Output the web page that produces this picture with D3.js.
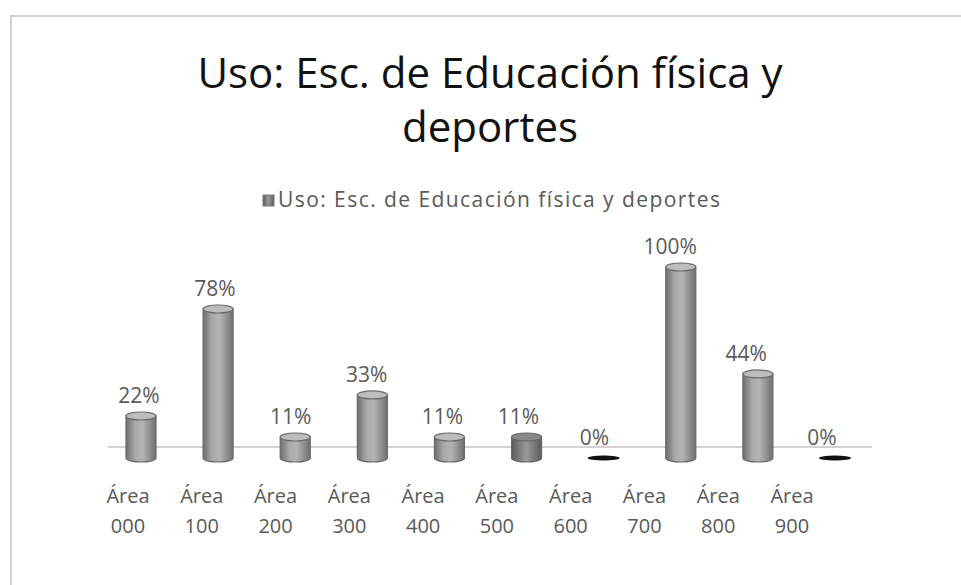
<!DOCTYPE html>
<html lang="es">
<head>
<meta charset="utf-8">
<title>Uso: Esc. de Educación física y deportes</title>
<script src="https://cdn.jsdelivr.net/npm/d3@7"></script>
<style>
  body { margin: 0; background: #ffffff; }
  svg { display: block; font-family: "Open Sans", "Noto Sans", sans-serif; }
</style>
</head>
<body>
<script>
// data
var categories = ["Área 000", "Área 100", "Área 200", "Área 300", "Área 400",
                  "Área 500", "Área 600", "Área 700", "Área 800", "Área 900"];
var values = [0.22, 0.78, 0.11, 0.33, 0.11, 0.11, 0.00, 1.00, 0.44, 0.00];
var titleLines = ["Uso: Esc. de Educación física y", "deportes"];
var seriesName = "Uso: Esc. de Educación física y deportes";

var w = 961, h = 585;

var svg = d3.select("body").append("svg")
  .attr("width", w)
  .attr("height", h);

var defs = svg.append("defs");

// cylinder body gradient
var g1 = defs.append("linearGradient").attr("id", "cyl")
  .attr("x1", "0%").attr("x2", "100%").attr("y1", "0%").attr("y2", "0%");
g1.append("stop").attr("offset", "0%").attr("stop-color", "#6e6e6e");
g1.append("stop").attr("offset", "30%").attr("stop-color", "#a8a8a8");
g1.append("stop").attr("offset", "55%").attr("stop-color", "#b4b4b4");
g1.append("stop").attr("offset", "100%").attr("stop-color", "#707070");

var g2 = defs.append("linearGradient").attr("id", "cyl2")
  .attr("x1", "0%").attr("x2", "100%").attr("y1", "0%").attr("y2", "0%");
g2.append("stop").attr("offset", "0%").attr("stop-color", "#5a5a5a");
g2.append("stop").attr("offset", "50%").attr("stop-color", "#9a9a9a");
g2.append("stop").attr("offset", "100%").attr("stop-color", "#5a5a5a");

// frame (only top and left edges are visible)
svg.append("rect")
  .attr("x", 11).attr("y", 16)
  .attr("width", w + 20).attr("height", h + 20)
  .attr("fill", "none")
  .attr("stroke", "#cfcfcf")
  .attr("stroke-width", 2);

// title
svg.append("text")
  .attr("text-anchor", "middle")
  .attr("fill", "#111")
  .attr("font-size", 42)
  .selectAll("tspan")
  .data(titleLines)
  .enter()
  .append("tspan")
  .attr("x", 490)
  .attr("y", function(d, i) { return 88 + i * 54; })
  .text(function(d) { return d; });

// legend
svg.append("rect")
  .attr("x", 263).attr("y", 195)
  .attr("width", 11).attr("height", 11)
  .attr("fill", "url(#cyl2)")
  .attr("stroke", "#777");

svg.append("text")
  .attr("x", 278).attr("y", 207)
  .attr("font-size", 21)
  .attr("textLength", 442)
  .attr("lengthAdjust", "spacing")
  .attr("fill", "#595959")
  .text(seriesName);

// scales
var xBar = d3.scalePoint().domain(categories).range([141, 835]);
var xVal = d3.scalePoint().domain(categories).range([139, 822]);
var xLab = d3.scalePoint().domain(categories).range([128, 792]);
var y = d3.scaleLinear().domain([0, 1]).range([458, 267]);

var bw = 30, ry = 4;

// floor line
svg.append("line")
  .attr("x1", 108).attr("x2", 872)
  .attr("y1", 447).attr("y2", 447)
  .attr("stroke", "#d2d2d2")
  .attr("stroke-width", 2);

var bars = svg.selectAll(".bar")
  .data(categories)
  .enter()
  .append("g")
  .attr("class", "bar");

bars.each(function(c, i) {
  var gg = d3.select(this);
  var v = values[i];
  var cx = xBar(c);
  if (v === 0) {
    gg.append("ellipse")
      .attr("cx", cx).attr("cy", y(0))
      .attr("rx", bw / 2 + 1).attr("ry", 2.5)
      .attr("fill", "#111");
    return;
  }
  var fill = (i === 5) ? "url(#cyl2)" : "url(#cyl)";
  gg.append("path")
    .attr("d", "M" + (cx - bw / 2) + "," + y(v) +
               "L" + (cx - bw / 2) + "," + y(0) +
               "A" + (bw / 2) + "," + ry + " 0 0,0 " + (cx + bw / 2) + "," + y(0) +
               "L" + (cx + bw / 2) + "," + y(v) + "Z")
    .attr("fill", fill)
    .attr("stroke", "#6a6a6a")
    .attr("stroke-width", 1.2);
  gg.append("ellipse")
    .attr("cx", cx).attr("cy", y(v))
    .attr("rx", bw / 2).attr("ry", ry)
    .attr("fill", i === 5 ? "#8a8a8a" : "#bdbdbd")
    .attr("stroke", "#6a6a6a")
    .attr("stroke-width", 1.2);
});

// value labels
svg.selectAll(".val")
  .data(categories)
  .enter()
  .append("text")
  .attr("class", "val")
  .attr("x", function(c) { return xVal(c); })
  .attr("y", function(c, i) { return y(values[i]) - 13; })
  .attr("text-anchor", "middle")
  .attr("font-size", 21)
  .attr("fill", "#5a5a5a")
  .text(function(c, i) { return d3.format(".0%")(values[i]); });

// category labels, two lines
var cat = svg.selectAll(".cat")
  .data(categories)
  .enter()
  .append("text")
  .attr("class", "cat")
  .attr("text-anchor", "middle")
  .attr("font-size", 20)
  .attr("fill", "#595959");

cat.append("tspan")
  .attr("x", function(c) { return xLab(c); })
  .attr("y", 503)
  .text(function(c) { return c.split(" ")[0]; });

cat.append("tspan")
  .attr("x", function(c) { return xLab(c); })
  .attr("y", 533)
  .text(function(c) { return c.split(" ")[1]; });
</script>
</body>
</html>
